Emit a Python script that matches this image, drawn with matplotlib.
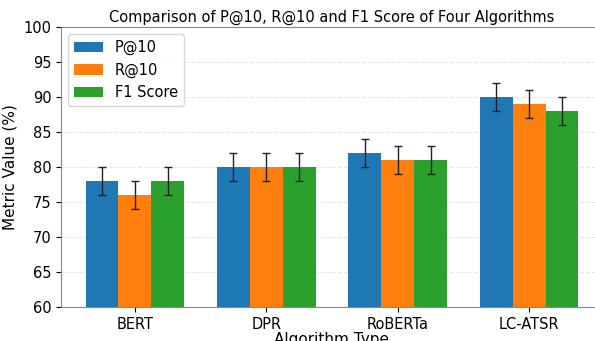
import numpy as np
import matplotlib
matplotlib.use("Agg")
import matplotlib.pyplot as plt

algorithms = ["BERT", "DPR", "RoBERTa", "LC-ATSR"]
p_at_10 = [78, 80, 82, 90]
r_at_10 = [76, 80, 81, 89]
f1_score = [78, 80, 81, 88]
p_err = [2, 2, 2, 2]
r_err = [2, 2, 2, 2]
f1_err = [2, 2, 2, 2]

x = np.arange(len(algorithms))
width = 0.25

fig = plt.figure(figsize=(5.95, 3.41), dpi=100)
ax = fig.add_axes([61 / 595, 34 / 341, 542 / 595, 280 / 341])

err_kw = dict(ecolor="#222222", elinewidth=1, capsize=3, capthick=1)
ax.bar(x - width, p_at_10, width, yerr=p_err, label="P@10", color="#1f77b4", error_kw=err_kw)
ax.bar(x, r_at_10, width, yerr=r_err, label="R@10", color="#ff7f0e", error_kw=err_kw)
ax.bar(x + width, f1_score, width, yerr=f1_err, label="F1 Score", color="#2ca02c", error_kw=err_kw)

ax.set_ylim(60, 100)
ax.set_xticks(x)
ax.set_xticklabels(algorithms, fontsize=10.5)
ax.tick_params(axis="y", labelsize=10.5)
ax.set_xlabel("Algorithm Type", fontsize=11, labelpad=0)
ax.set_ylabel("Metric Value (%)", fontsize=11)
ax.set_title("Comparison of P@10, R@10 and F1 Score of Four Algorithms", fontsize=10.5, pad=4)

ax.grid(axis="y", linestyle="--", alpha=0.3)
ax.set_axisbelow(True)
for s in ax.spines.values():
    s.set_color("#888888")

ax.legend(loc="upper left", fontsize=10.5, handlelength=2.0, handleheight=0.7)

fig.savefig("out.png", dpi=100)
